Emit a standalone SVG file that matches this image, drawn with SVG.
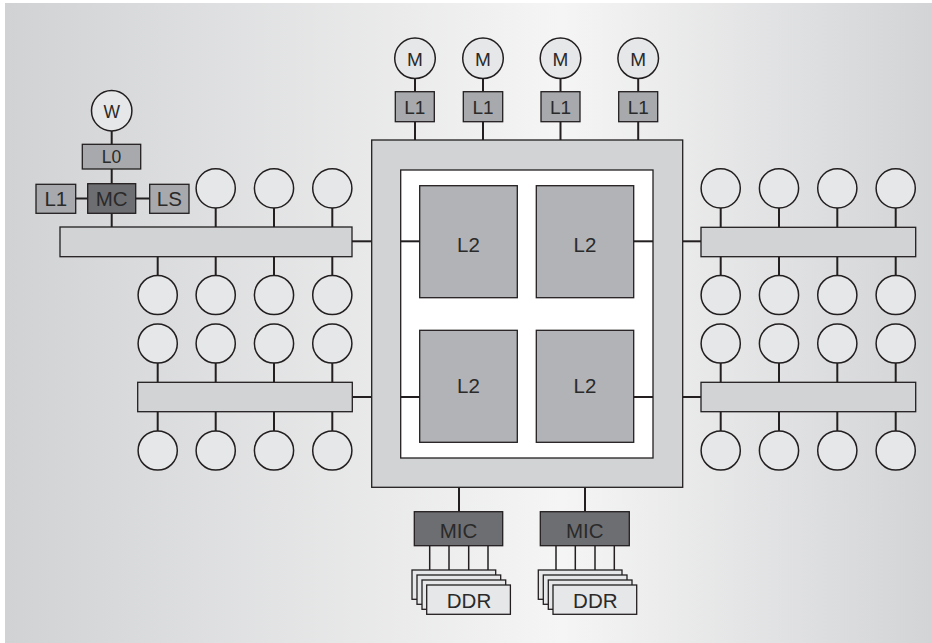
<svg xmlns="http://www.w3.org/2000/svg" width="932" height="643" viewBox="0 0 932 643">
<defs>
<linearGradient id="bg" x1="0" y1="0" x2="1" y2="0">
<stop offset="0" stop-color="#d1d2d4"/>
<stop offset="0.6" stop-color="#f5f5f5"/>
<stop offset="1" stop-color="#d3d4d6"/>
</linearGradient>
</defs>
<style>
.ln{stroke:#231f20;stroke-width:2;fill:none}
.c{fill:#e6e7e8;stroke:#231f20;stroke-width:1.5}
.b{stroke:#231f20;stroke-width:1.3}
.l1{fill:#a7a9ac}
.dk{fill:#6d6e71}
.l2{fill:#b1b3b6}
.bar{fill:#d1d3d4}
.ddr{fill:#e6e7e8}
text{font-family:"Liberation Sans",Arial,sans-serif;fill:#2a2a2a;text-anchor:middle}
.t17{font-size:17.5px}
.t19{font-size:19px}
.t20{font-size:20.5px}
</style>
<rect x="5" y="3" width="927" height="640" fill="url(#bg)"/>

<g id="connectors">
<!-- W / L0 / MC -->
<line class="ln" x1="111.7" y1="131" x2="111.7" y2="144.3"/>
<line class="ln" x1="111.7" y1="169" x2="111.7" y2="183.7"/>
<line class="ln" x1="75.7" y1="198.5" x2="87.7" y2="198.5"/>
<line class="ln" x1="135.7" y1="198.5" x2="149.7" y2="198.5"/>
<line class="ln" x1="111.7" y1="213.3" x2="111.7" y2="227"/>
<!-- left upper bar stubs -->
<line class="ln" x1="215.7" y1="208" x2="215.7" y2="227"/>
<line class="ln" x1="274" y1="208" x2="274" y2="227"/>
<line class="ln" x1="332.3" y1="208" x2="332.3" y2="227"/>
<line class="ln" x1="157.7" y1="256.7" x2="157.7" y2="275.5"/>
<line class="ln" x1="215.7" y1="256.7" x2="215.7" y2="275.5"/>
<line class="ln" x1="274" y1="256.7" x2="274" y2="275.5"/>
<line class="ln" x1="332.3" y1="256.7" x2="332.3" y2="275.5"/>
<!-- left lower bar stubs -->
<line class="ln" x1="157.7" y1="363" x2="157.7" y2="382.3"/>
<line class="ln" x1="215.7" y1="363" x2="215.7" y2="382.3"/>
<line class="ln" x1="274" y1="363" x2="274" y2="382.3"/>
<line class="ln" x1="332.3" y1="363" x2="332.3" y2="382.3"/>
<line class="ln" x1="157.7" y1="411.7" x2="157.7" y2="431"/>
<line class="ln" x1="215.7" y1="411.7" x2="215.7" y2="431"/>
<line class="ln" x1="274" y1="411.7" x2="274" y2="431"/>
<line class="ln" x1="332.3" y1="411.7" x2="332.3" y2="431"/>
<!-- right upper bar stubs -->
<line class="ln" x1="720.7" y1="208" x2="720.7" y2="227"/>
<line class="ln" x1="779" y1="208" x2="779" y2="227"/>
<line class="ln" x1="837.3" y1="208" x2="837.3" y2="227"/>
<line class="ln" x1="895.7" y1="208" x2="895.7" y2="227"/>
<line class="ln" x1="720.7" y1="256.7" x2="720.7" y2="275.5"/>
<line class="ln" x1="779" y1="256.7" x2="779" y2="275.5"/>
<line class="ln" x1="837.3" y1="256.7" x2="837.3" y2="275.5"/>
<line class="ln" x1="895.7" y1="256.7" x2="895.7" y2="275.5"/>
<!-- right lower bar stubs -->
<line class="ln" x1="720.7" y1="363" x2="720.7" y2="382.3"/>
<line class="ln" x1="779" y1="363" x2="779" y2="382.3"/>
<line class="ln" x1="837.3" y1="363" x2="837.3" y2="382.3"/>
<line class="ln" x1="895.7" y1="363" x2="895.7" y2="382.3"/>
<line class="ln" x1="720.7" y1="411.7" x2="720.7" y2="431"/>
<line class="ln" x1="779" y1="411.7" x2="779" y2="431"/>
<line class="ln" x1="837.3" y1="411.7" x2="837.3" y2="431"/>
<line class="ln" x1="895.7" y1="411.7" x2="895.7" y2="431"/>
<!-- bars to chip -->
<line class="ln" x1="352" y1="241.3" x2="371.7" y2="241.3"/>
<line class="ln" x1="352.3" y1="397" x2="371.7" y2="397"/>
<line class="ln" x1="682.7" y1="241.3" x2="701" y2="241.3"/>
<line class="ln" x1="682.7" y1="397" x2="701" y2="397"/>
<!-- M / L1 top -->
<line class="ln" x1="415" y1="78.6" x2="415" y2="91.7"/>
<line class="ln" x1="483" y1="78.6" x2="483" y2="91.7"/>
<line class="ln" x1="560.5" y1="78.6" x2="560.5" y2="91.7"/>
<line class="ln" x1="638.2" y1="78.6" x2="638.2" y2="91.7"/>
<line class="ln" x1="415" y1="121.7" x2="415" y2="140"/>
<line class="ln" x1="483" y1="121.7" x2="483" y2="140"/>
<line class="ln" x1="560.5" y1="121.7" x2="560.5" y2="140"/>
<line class="ln" x1="638.2" y1="121.7" x2="638.2" y2="140"/>
<!-- chip to MIC -->
<line class="ln" x1="459" y1="487.3" x2="459" y2="511.7"/>
<line class="ln" x1="585" y1="487.3" x2="585" y2="511.7"/>
<!-- MIC to DDR -->
<line class="ln" style="stroke-width:1.5" x1="429.7" y1="545.7" x2="429.7" y2="570"/>
<line class="ln" style="stroke-width:1.5" x1="449" y1="545.7" x2="449" y2="575"/>
<line class="ln" style="stroke-width:1.5" x1="468.7" y1="545.7" x2="468.7" y2="580"/>
<line class="ln" style="stroke-width:1.5" x1="488" y1="545.7" x2="488" y2="585"/>
<line class="ln" style="stroke-width:1.5" x1="556" y1="545.7" x2="556" y2="570"/>
<line class="ln" style="stroke-width:1.5" x1="575.3" y1="545.7" x2="575.3" y2="575"/>
<line class="ln" style="stroke-width:1.5" x1="595" y1="545.7" x2="595" y2="580"/>
<line class="ln" style="stroke-width:1.5" x1="614.3" y1="545.7" x2="614.3" y2="585"/>
</g>

<g id="chip">
<rect class="b bar" x="371.7" y="140" width="311" height="347.3"/>
<rect class="b" fill="#ffffff" x="400.7" y="170" width="252.3" height="288"/>
<line class="ln" x1="400.7" y1="241.3" x2="419.7" y2="241.3"/>
<line class="ln" x1="633.7" y1="241.3" x2="653" y2="241.3"/>
<line class="ln" x1="400.7" y1="397" x2="419.7" y2="397"/>
<line class="ln" x1="633.7" y1="397" x2="653" y2="397"/>
</g>
<g id="l2-1"><rect class="b l2" x="419.7" y="185.7" width="97.6" height="112"/><text class="t20" x="468.5" y="251.7">L2</text></g>
<g id="l2-2"><rect class="b l2" x="536.3" y="185.7" width="97.4" height="112"/><text class="t20" x="585" y="251.7">L2</text></g>
<g id="l2-3"><rect class="b l2" x="419.7" y="330.3" width="97.6" height="112"/><text class="t20" x="468.5" y="392.7">L2</text></g>
<g id="l2-4"><rect class="b l2" x="536.3" y="330.3" width="97.4" height="112"/><text class="t20" x="585" y="392.7">L2</text></g>

<g id="w"><circle class="c" cx="111.7" cy="110.7" r="20.2"/><text class="t17" x="111.7" y="117.7">W</text></g>
<g id="l0"><rect class="b l1" x="82.3" y="144.3" width="58.4" height="24.7"/><text class="t17" x="111.5" y="163.3">L0</text></g>
<g id="mc"><rect class="b dk" x="87.7" y="183.7" width="48" height="29.6"/><text class="t20" x="111.7" y="206">MC</text></g>
<g id="l1-left"><rect class="b l1" x="36" y="184.3" width="39.7" height="29"/><text class="t20" x="55.8" y="206">L1</text></g>
<g id="ls"><rect class="b l1" x="149.7" y="184.3" width="39.3" height="29"/><text class="t20" x="169.4" y="206">LS</text></g>

<g id="bar-left-top"><rect class="b bar" x="60" y="227" width="292" height="29.7"/></g>
<g id="bar-left-bottom"><rect class="b bar" x="137.7" y="382.3" width="214.6" height="29.4"/></g>
<g id="bar-right-top"><rect class="b bar" x="701" y="227.3" width="214.7" height="29.4"/></g>
<g id="bar-right-bottom"><rect class="b bar" x="701" y="382.3" width="214.7" height="29.4"/></g>

<g id="cores-left">
<circle class="c" cx="215.7" cy="188.3" r="19.6"/>
<circle class="c" cx="274" cy="188.3" r="19.6"/>
<circle class="c" cx="332.3" cy="188.3" r="19.6"/>
<circle class="c" cx="157.7" cy="295" r="19.6"/>
<circle class="c" cx="215.7" cy="295" r="19.6"/>
<circle class="c" cx="274" cy="295" r="19.6"/>
<circle class="c" cx="332.3" cy="295" r="19.6"/>
<circle class="c" cx="157.7" cy="343.5" r="19.6"/>
<circle class="c" cx="215.7" cy="343.5" r="19.6"/>
<circle class="c" cx="274" cy="343.5" r="19.6"/>
<circle class="c" cx="332.3" cy="343.5" r="19.6"/>
<circle class="c" cx="157.7" cy="450.5" r="19.6"/>
<circle class="c" cx="215.7" cy="450.5" r="19.6"/>
<circle class="c" cx="274" cy="450.5" r="19.6"/>
<circle class="c" cx="332.3" cy="450.5" r="19.6"/>
</g>
<g id="cores-right">
<circle class="c" cx="720.7" cy="188.3" r="19.6"/>
<circle class="c" cx="779" cy="188.3" r="19.6"/>
<circle class="c" cx="837.3" cy="188.3" r="19.6"/>
<circle class="c" cx="895.7" cy="188.3" r="19.6"/>
<circle class="c" cx="720.7" cy="295" r="19.6"/>
<circle class="c" cx="779" cy="295" r="19.6"/>
<circle class="c" cx="837.3" cy="295" r="19.6"/>
<circle class="c" cx="895.7" cy="295" r="19.6"/>
<circle class="c" cx="720.7" cy="343.5" r="19.6"/>
<circle class="c" cx="779" cy="343.5" r="19.6"/>
<circle class="c" cx="837.3" cy="343.5" r="19.6"/>
<circle class="c" cx="895.7" cy="343.5" r="19.6"/>
<circle class="c" cx="720.7" cy="450.5" r="19.6"/>
<circle class="c" cx="779" cy="450.5" r="19.6"/>
<circle class="c" cx="837.3" cy="450.5" r="19.6"/>
<circle class="c" cx="895.7" cy="450.5" r="19.6"/>
</g>

<g id="m1"><circle class="c" cx="415" cy="58.3" r="20.3"/><text class="t19" x="415" y="65.7">M</text></g>
<g id="m2"><circle class="c" cx="483" cy="58.3" r="20.3"/><text class="t19" x="483" y="65.7">M</text></g>
<g id="m3"><circle class="c" cx="560.5" cy="58.3" r="20.3"/><text class="t19" x="560.5" y="65.7">M</text></g>
<g id="m4"><circle class="c" cx="638.2" cy="58.3" r="20.3"/><text class="t19" x="638.2" y="65.7">M</text></g>
<g id="l1-1"><rect class="b l1" x="395.3" y="91.7" width="39" height="30"/><text class="t19" x="414.8" y="114">L1</text></g>
<g id="l1-2"><rect class="b l1" x="463.3" y="91.7" width="39.4" height="30"/><text class="t19" x="483" y="114">L1</text></g>
<g id="l1-3"><rect class="b l1" x="541" y="91.7" width="39" height="30"/><text class="t19" x="560.5" y="114">L1</text></g>
<g id="l1-4"><rect class="b l1" x="618.7" y="91.7" width="39" height="30"/><text class="t19" x="638.2" y="114">L1</text></g>

<g id="mic1"><rect class="b dk" x="414.3" y="511.7" width="88.4" height="34"/><text class="t20" x="458.5" y="538.3">MIC</text></g>
<g id="mic2"><rect class="b dk" x="540.3" y="511.7" width="89" height="34"/><text class="t20" x="584.8" y="538.3">MIC</text></g>

<g id="ddr1">
<rect class="b ddr" x="412" y="570" width="83.7" height="29.3"/>
<rect class="b ddr" x="417" y="575" width="83.7" height="29.3"/>
<rect class="b ddr" x="422" y="580" width="83.7" height="29.3"/>
<rect class="b ddr" x="426.7" y="585" width="83.7" height="29.3"/>
<text class="t20" x="469" y="608.3">DDR</text>
</g>
<g id="ddr2">
<rect class="b ddr" x="538.3" y="570" width="83.7" height="29.3"/>
<rect class="b ddr" x="543.3" y="575" width="83.7" height="29.3"/>
<rect class="b ddr" x="548.3" y="580" width="83.7" height="29.3"/>
<rect class="b ddr" x="553" y="585" width="83.7" height="29.3"/>
<text class="t20" x="595.3" y="608.3">DDR</text>
</g>
</svg>
